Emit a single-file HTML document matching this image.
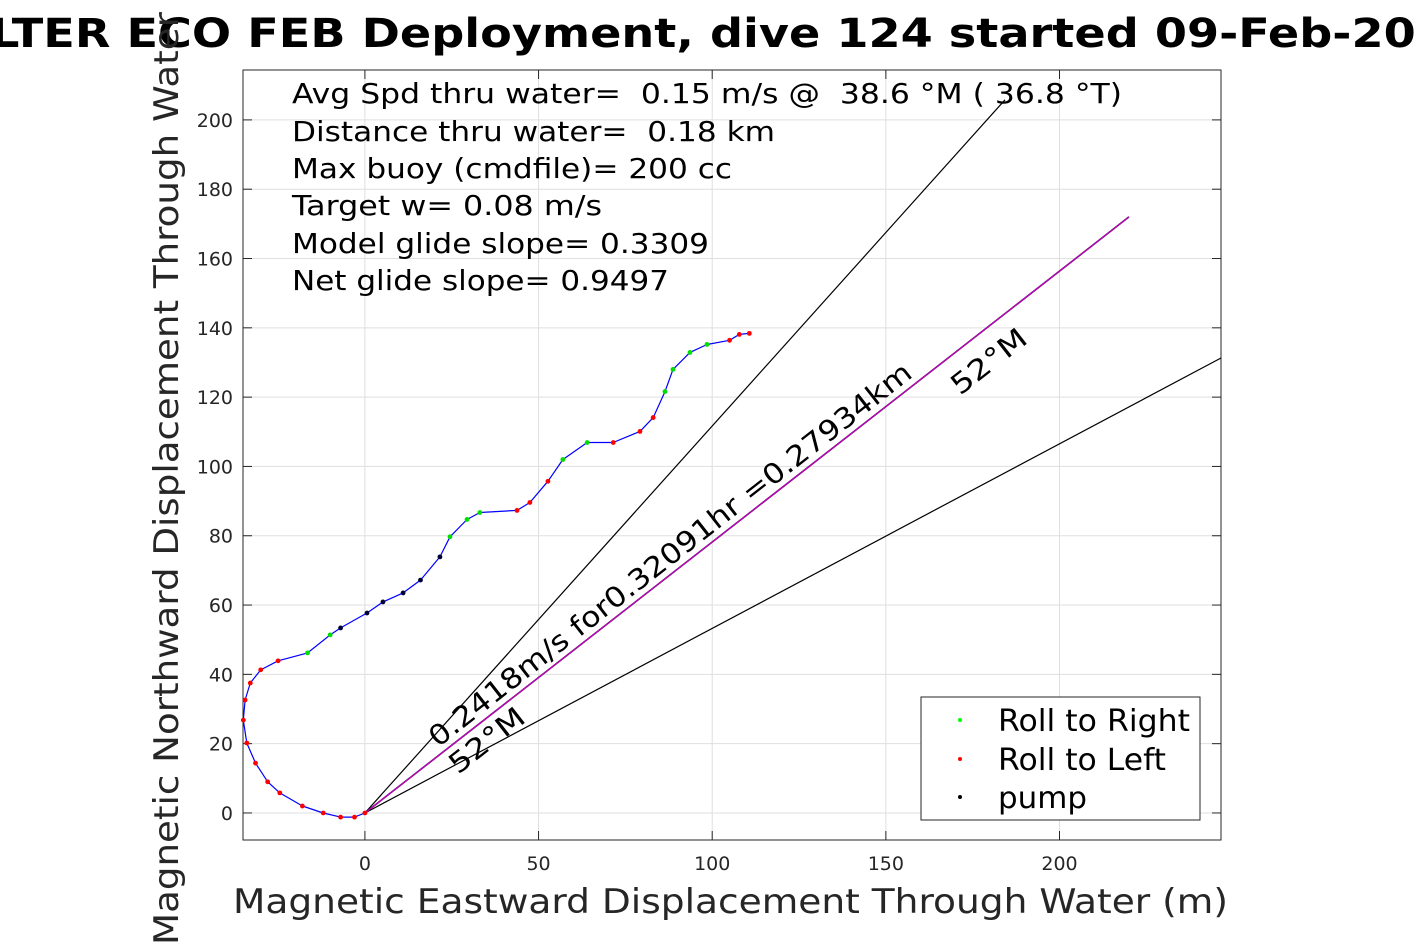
<!DOCTYPE html>
<html><head><meta charset="utf-8"><style>
html,body{margin:0;padding:0;background:#fff}
svg{display:block;font-family:"DejaVu Sans","Liberation Sans",sans-serif}
text{white-space:pre}
</style></head><body>
<svg id="chart" width="1417" height="945" viewBox="0 0 1417 945" xmlns="http://www.w3.org/2000/svg" xml:space="preserve">
<rect width="1417" height="945" fill="#fff"/>
<text x="-10" y="47" font-size="40" font-weight="bold" textLength="1490" lengthAdjust="spacingAndGlyphs">LTER ECO FEB Deployment, dive 124 started 09-Feb-2018</text>
<g id="grid"></g>
<g id="axes"></g>
<g id="marks"></g>
<g font-size="28" fill="#000">
<text x="292" y="103" textLength="830" lengthAdjust="spacingAndGlyphs">Avg Spd thru water=  0.15 m/s @  38.6 °M ( 36.8 °T)</text>
<text x="292" y="141" textLength="483" lengthAdjust="spacingAndGlyphs">Distance thru water=  0.18 km</text>
<text x="292" y="178" textLength="440" lengthAdjust="spacingAndGlyphs">Max buoy (cmdfile)= 200 cc</text>
<text x="292" y="215" textLength="310" lengthAdjust="spacingAndGlyphs">Target w= 0.08 m/s</text>
<text x="292" y="253" textLength="417" lengthAdjust="spacingAndGlyphs">Model glide slope= 0.3309</text>
<text x="292" y="290" textLength="377" lengthAdjust="spacingAndGlyphs">Net glide slope= 0.9497</text>
</g>
<text x="233" y="913" font-size="34" fill="#262626" textLength="995" lengthAdjust="spacingAndGlyphs">Magnetic Eastward Displacement Through Water (m)</text>
<text transform="translate(178,945) rotate(-90)" font-size="34" fill="#262626" textLength="1010" lengthAdjust="spacingAndGlyphs">Magnetic Northward Displacement Through Water (m)</text>
<g>
<rect x="921" y="697" width="279" height="123" fill="#fff" stroke="#262626" stroke-width="1"/>
<circle cx="960" cy="720" r="2" fill="#00ff00"/><text x="998" y="731" font-size="30" textLength="192" lengthAdjust="spacingAndGlyphs">Roll to Right</text>
<circle cx="960" cy="759" r="2" fill="#ff0000"/><text x="998" y="770" font-size="30" textLength="168" lengthAdjust="spacingAndGlyphs">Roll to Left</text>
<circle cx="960" cy="797" r="2" fill="#000"/><text x="998" y="808" font-size="30" textLength="89" lengthAdjust="spacingAndGlyphs">pump</text>
</g>
</svg>
<script>
const xTicks=[0,50,100,150,200];
const yTicks=[0,20,40,60,80,100,120,140,160,180,200];
const trackX=[0,-3,-7,-12,-18,-24.5,-28,-31.5,-34,-35,-34.5,-33,-30,-25,-16.5,-10,-7,0.6,5.2,11,16,21.6,24.5,29.4,33.1,43.8,47.5,52.7,57,64,71.5,79.2,83,86.4,88.7,93.6,98.5,105,107.8,110.7];
const trackY=[0,-1.2,-1.2,0,2,5.8,9,14.4,20.2,26.8,32.6,37.5,41.3,43.9,46.2,51.4,53.4,57.7,60.9,63.5,67.2,73.9,79.7,84.7,86.7,87.3,89.6,95.7,102,106.9,106.9,110.1,114.1,121.6,128,132.9,135.2,136.4,138.1,138.4];
const trackRoll=["L","L","L","L","L","L","L","L","L","L","L","L","L","L","R","R","P","P","P","P","P","P","R","R","R","L","L","L","R","R","L","L","L","R","R","R","R","L","L","L"];
const rayEnds=[[184.3,205.8],[246.5,131.3]];
const headingEnd=[220,172];
const X0=-35.1,X1=246.5,Y0=-7.8,Y1=214.4,PL=243,PR=1221,PT=70,PB=840;
const sx=v=>PL+(v-X0)/(X1-X0)*(PR-PL);
const sy=v=>PB-(v-Y0)/(Y1-Y0)*(PB-PT);
const NS="http://www.w3.org/2000/svg";
function mk(t,a,p){const e=document.createElementNS(NS,t);for(const k in a)e.setAttribute(k,a[k]);p.appendChild(e);return e;}
const grid=document.getElementById('grid'),axes=document.getElementById('axes'),marks=document.getElementById('marks');
xTicks.forEach(v=>{const x=sx(v);
 const g=mk('line',{x1:x,x2:x,y1:PT,y2:PB,stroke:'#dfdfdf','stroke-width':1},grid);
 
 mk('line',{x1:x,x2:x,y1:PB,y2:PB-9,stroke:'#262626'},axes);
 mk('line',{x1:x,x2:x,y1:PT,y2:PT+9,stroke:'#262626'},axes);
 const t=mk('text',{x:x,y:870,'font-size':19,'text-anchor':'middle',fill:'#262626'},axes);t.textContent=v;
 });
yTicks.forEach(v=>{const y=sy(v);
 const g=mk('line',{x1:PL,x2:PR,y1:y,y2:y,stroke:'#dfdfdf','stroke-width':1},grid);
 
 mk('line',{x1:PL,x2:PL+9,y1:y,y2:y,stroke:'#262626'},axes);
 mk('line',{x1:PR,x2:PR-9,y1:y,y2:y,stroke:'#262626'},axes);
 const t=mk('text',{x:233,y:y+7,'font-size':19,'text-anchor':'end',fill:'#262626'},axes);t.textContent=v;
 });
const fr=mk('rect',{x:PL,y:PT,width:PR-PL,height:PB-PT,fill:'none',stroke:'#262626','stroke-width':1},axes);

rayEnds.forEach(p=>{const l=mk('line',{x1:sx(0),y1:sy(0),x2:sx(p[0]),y2:sy(p[1]),stroke:'#000','stroke-width':1.2},marks);
 });
const hb=mk('line',{x1:sx(0),y1:sy(0),x2:sx(headingEnd[0]),y2:sy(headingEnd[1]),stroke:'#000','stroke-width':1.6},marks);

const hm=mk('line',{x1:sx(0),y1:sy(0),x2:sx(headingEnd[0]),y2:sy(headingEnd[1]),stroke:'#cc00cc','stroke-width':1.2},marks);

let d='';trackX.forEach((v,i)=>{d+=(i?'L':'M')+sx(v).toFixed(1)+','+sy(trackY[i]).toFixed(1);});
const tr=mk('path',{d:d,fill:'none',stroke:'#0000ff','stroke-width':1.2,'stroke-linejoin':'round'},marks);

const col={L:'#ff0000',R:'#00dd00',P:'#000033'};
trackX.forEach((v,i)=>{const c=mk('circle',{cx:sx(v),cy:sy(trackY[i]),r:2.4,fill:col[trackRoll[i]]},marks);
 });
function rt(txt,x,y,ang,name,len){const a={x:0,y:0,'font-size':28,transform:`translate(${x},${y}) rotate(${ang})`};
 if(len){a.textLength=len;a.lengthAdjust='spacingAndGlyphs';}
 const t=mk('text',a,marks);t.textContent=txt;
 }
rt('0.2418m/s for0.32091hr =0.27934km',438,748,-38,'speed-label',604);
rt('52°M',458,775,-38,'heading-label-low',88);
rt('52°M',960,396,-38,'heading-label-high',88);
</script>
</body></html>
